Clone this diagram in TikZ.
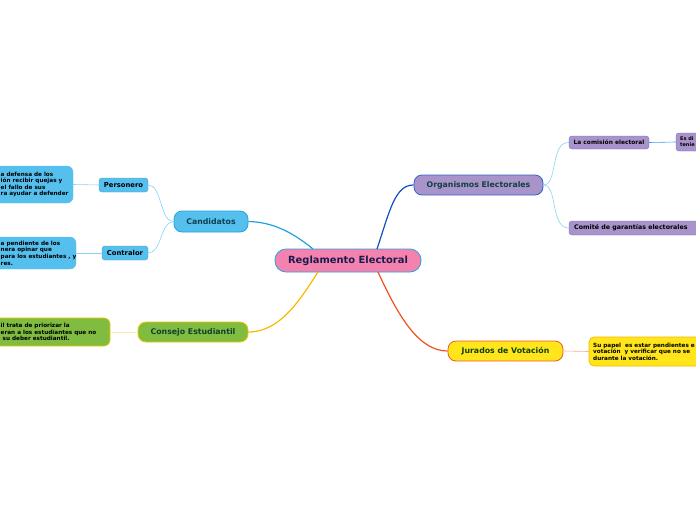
\documentclass[tikz,border=0pt]{standalone}
\usepackage{fontspec}
\setmainfont{DejaVu Sans}
\begin{document}
\begin{tikzpicture}[x=1pt,y=-1pt,
  box/.style={draw, line width=0.8pt, inner sep=0pt, font=\bfseries},
  leaftext/.style={anchor=west, align=left, inner sep=0pt, font=\fontsize{5.7}{6.6}\selectfont\bfseries, text=black},
  link/.style={line width=0.6pt}]
\useasboundingbox (0,0) rectangle (696,520);
\definecolor{pinkc}{HTML}{F383AE}
\definecolor{bluec}{HTML}{55C0EE}
\definecolor{blueb}{HTML}{2AA0E0}
\definecolor{greenc}{HTML}{80BC40}
\definecolor{yellb}{HTML}{F2C200}
\definecolor{purpc}{HTML}{A893CB}
\definecolor{purpb}{HTML}{2F63C8}
\definecolor{yellc}{HTML}{FFE51A}
\definecolor{orangeb}{HTML}{F05A28}
\clip (0,0) rectangle (696,520);
% main nodes
\node[box, fill=pinkc, draw=blueb, minimum width=146pt, minimum height=23pt, rounded corners=11pt, text={rgb,255:red,26;green,26;blue,80}, font=\fontsize{9.9}{11}\selectfont\bfseries] (root) at (348,260.5) {Reglamento Electoral};
\node[box, fill=bluec, draw=blueb, minimum width=74pt, minimum height=21pt, rounded corners=8pt, text={rgb,255:red,15;green,64;blue,80}, font=\fontsize{7.8}{9}\selectfont\bfseries] (cand) at (211,221.5) {Candidatos};
\node[box, fill=greenc, draw=yellb, minimum width=110pt, minimum height=20pt, rounded corners=8pt, text={rgb,255:red,16;green,64;blue,48}, font=\fontsize{7.8}{9}\selectfont\bfseries] (cons) at (193,332) {Consejo Estudiantil};
\node[box, fill=purpc, draw=purpb, minimum width=129pt, minimum height=20pt, rounded corners=8pt, text={rgb,255:red,16;green,64;blue,64}, font=\fontsize{7.8}{9}\selectfont\bfseries] (org) at (478.5,185) {Organismos Electorales};
\node[box, fill=yellc, draw=orangeb, minimum width=115pt, minimum height=20pt, rounded corners=8pt, text={rgb,255:red,16;green,64;blue,16}, font=\fontsize{7.8}{9}\selectfont\bfseries] (jur) at (505.5,351) {Jurados de Votación};
% sub nodes
\node[box, fill=bluec, draw=bluec!80!black, line width=0.4pt, minimum width=49pt, minimum height=14pt, rounded corners=3pt, font=\fontsize{6.8}{8}\selectfont\bfseries] (pers) at (123.5,185) {Personero};
\node[box, fill=bluec, draw=bluec!80!black, line width=0.4pt, minimum width=46pt, minimum height=14pt, rounded corners=3pt, font=\fontsize{6.8}{8}\selectfont\bfseries] (contr) at (125,253) {Contralor};
\node[box, fill=purpc, draw=purpc!70!blue, line width=0.4pt, minimum width=80pt, minimum height=13pt, rounded corners=3pt, font=\fontsize{5.9}{7}\selectfont\bfseries] (comi) at (609,142.5) {La comisión electoral};
\node[box, fill=purpc, draw=purpc!70!blue, line width=0.4pt, minimum width=150pt, minimum height=14pt, rounded corners=3pt] (comite) at (644,228) {};
\node[leaftext, font=\fontsize{6.3}{7.5}\selectfont\bfseries] (comitet) at (574,228) {Comité de garantías electorales};
% leaves
\node[box, fill=bluec, draw=bluec, line width=0.4pt, minimum width=93pt, minimum height=37pt, rounded corners=6pt] (persl) at (26.5,184.5) {};
\node[leaftext] (perslt) at (0.5,184.5) {a defensa de los\\ión recibir quejas y\\el fallo de sus\\ra ayudar a defender};
\node[box, fill=bluec, draw=bluec, line width=0.4pt, minimum width=96pt, minimum height=32pt, rounded corners=6pt] (contrl) at (28,253) {};
\node[leaftext] (contrlt) at (0.5,253) {a pendiente de los\\nera opinar que\\para los estudiantes , y\\res.};
\node[box, fill=greenc, draw=yellb, line width=0.6pt, minimum width=130pt, minimum height=28pt, rounded corners=6pt] (consl) at (45,332) {};
\node[leaftext] (conslt) at (0.5,332) {il trata de priorizar la\\eran a los estudiantes que no\\\ su deber estudiantil.};
\node[box, fill=purpc, draw=purpc!70!blue, line width=0.4pt, minimum width=40pt, minimum height=18pt, rounded corners=3pt] (comil) at (696,142) {};
\node[leaftext, font=\fontsize{5}{6}\selectfont\bfseries] (comilt) at (680,142) {Es di\\tenie};
\node[box, fill=yellc, draw=yellb!80!orange, line width=0.6pt, minimum width=131pt, minimum height=29pt, rounded corners=5pt] (jurl) at (654.5,351.5) {};
\node[leaftext] (jurlt) at (593,351.5) {Su papel\ \ es estar pendientes e\\votación\ \ y verificar que no se\\durante la votación.};
% main connectors
\draw[line width=1.2pt, color={rgb,255:red,32;green,160;blue,224}] (313,249) .. controls (290,230) and (270,222) .. (cand.east);
\draw[line width=1.2pt, color={rgb,255:red,248;green,184;blue,0}] (318,272) .. controls (300,300) and (280,332) .. (cons.east);
\draw[line width=1.2pt, color={rgb,255:red,16;green,80;blue,192}] (377,249) .. controls (390,210) and (395,185) .. (org.west);
\draw[line width=1.2pt, color={rgb,255:red,240;green,80;blue,32}] (378,272) .. controls (400,320) and (420,351) .. (jur.west);
% sub connectors
\draw[link, color=bluec!70!white] (cand.west) .. controls (160,222) and (162,185) .. (pers.east);
\draw[link, color=bluec!70!white] (cand.west) .. controls (160,222) and (162,253) .. (contr.east);
\draw[link, color=bluec!70!white] (persl.east) -- (pers.west);
\draw[link, color=bluec!70!white] (contrl.east) -- (contr.west);
\draw[link, color=yellb!35!white] (consl.east) -- (cons.west);
\draw[link, color=bluec!70!white] (org.east) .. controls (558,185) and (550,142) .. (comi.west);
\draw[link, color=bluec!70!white] (org.east) .. controls (558,185) and (550,228) .. (comite.west);
\draw[link, color=bluec!80!blue] (comi.east) -- (comil.west);
\draw[link, color=orangeb!50!white] (jur.east) -- (jurl.west);
\end{tikzpicture}
\end{document}
